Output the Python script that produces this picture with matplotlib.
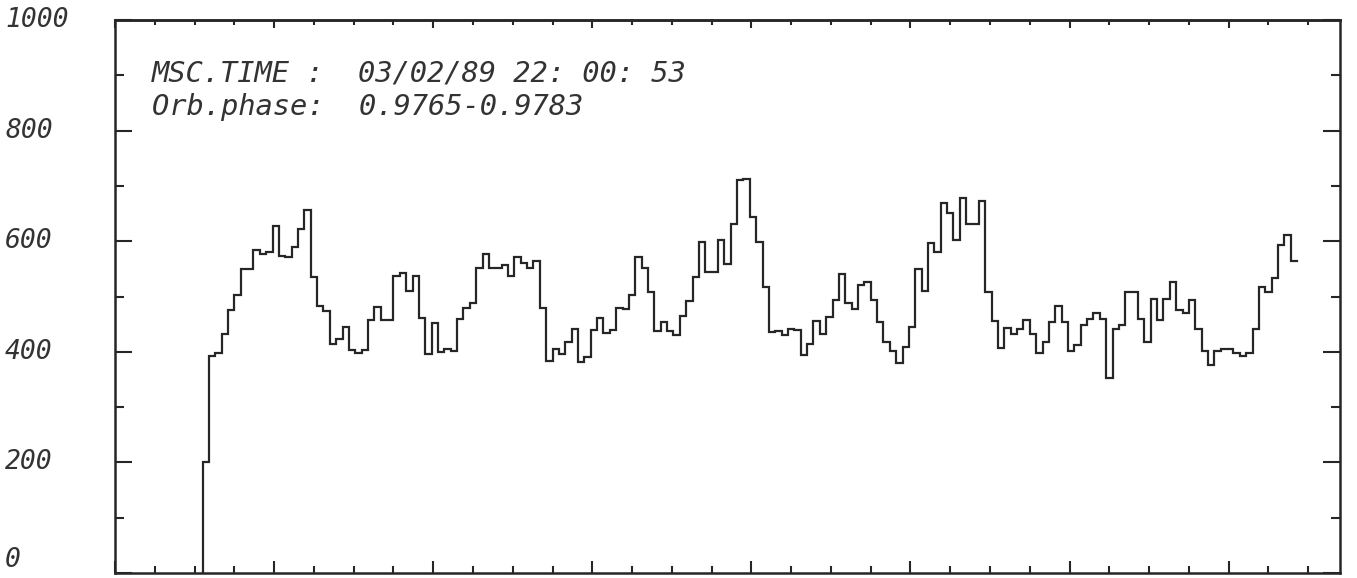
import numpy as np
import matplotlib
matplotlib.use("Agg")
import matplotlib.pyplot as plt
from matplotlib.ticker import MultipleLocator
from matplotlib import transforms

# counts per time bin
counts = [
    201, 393, 397, 433, 476, 502, 550, 550, 584, 577,
    581, 628, 574, 571, 589, 622, 657, 536, 482, 474,
    415, 424, 444, 403, 397, 403, 457, 481, 458, 458,
    537, 543, 510, 537, 462, 396, 452, 400, 405, 402,
    459, 480, 488, 552, 576, 552, 552, 557, 537, 572,
    561, 552, 564, 480, 384, 405, 396, 417, 441, 381,
    390, 440, 461, 434, 440, 479, 478, 503, 572, 552,
    508, 437, 454, 437, 431, 464, 492, 536, 598, 544,
    544, 602, 559, 631, 711, 713, 643, 598, 518, 436,
    438, 431, 442, 439, 394, 415, 456, 432, 463, 494,
    540, 488, 478, 520, 526, 494, 454, 418, 402, 380,
    409, 445, 550, 510, 596, 580, 669, 651, 602, 678,
    631, 631, 672, 508, 455, 407, 443, 433, 441, 457,
    433, 397, 418, 454, 483, 454, 401, 412, 448, 459,
    471, 459, 353, 441, 449, 509, 509, 459, 418, 495,
    457, 496, 526, 475, 471, 493, 441, 402, 376, 402,
    405, 405, 397, 393, 397, 441, 517, 509, 533, 594,
    611, 565,
]
t_start = 11.0
bin_width = 0.8
x_range = (0, 154)
y_range = (0, 1000)
y_ticks = [0, 200, 400, 600, 800, 1000]
info_lines = ["MSC.TIME :  03/02/89 22: 00: 53", "Orb.phase:  0.9765-0.9783"]

INK = "#262626"
FONT = dict(family="DejaVu Sans Mono", style="italic", color="#333333")

fig = plt.figure(figsize=(13.57, 5.78), dpi=100)
W, H = 1357, 578
ax = fig.add_axes([115 / W, 1 - 573 / H, (1340 - 115) / W, (573 - 20) / H])

counts = np.asarray(counts, dtype=float)
edges = t_start + bin_width * np.arange(len(counts) + 1)
# step line, rising from zero at the first bin
ax.step(np.r_[edges[0], edges], np.r_[0, counts, counts[-1]], where="post",
        color=INK, lw=1.6, solid_joinstyle="miter")

ax.set_xlim(*x_range)
ax.set_ylim(*y_range)

for s in ax.spines.values():
    s.set_linewidth(1.8)
    s.set_color(INK)

ax.xaxis.set_major_locator(MultipleLocator(20))
ax.xaxis.set_minor_locator(MultipleLocator(5))
ax.yaxis.set_major_locator(MultipleLocator(200))
ax.yaxis.set_minor_locator(MultipleLocator(100))
ax.tick_params(which="both", direction="in", color=INK, width=1.5,
               labelbottom=False, labelleft=False, top=False, right=True)
ax.tick_params(axis="y", which="major", length=12)
ax.tick_params(axis="y", which="minor", length=6.5)
ax.tick_params(axis="x", which="major", length=8.5)
ax.tick_params(axis="x", which="minor", length=5)

# top axis ticks are shorter than the bottom ones
top = ax.secondary_xaxis("top")
top.xaxis.set_major_locator(MultipleLocator(20))
top.xaxis.set_minor_locator(MultipleLocator(5))
top.tick_params(which="both", direction="in", color=INK, width=1.5, labeltop=False)
top.tick_params(which="major", length=5.5)
top.tick_params(which="minor", length=3.5)
top.spines["top"].set_linewidth(1.8)
top.spines["top"].set_color(INK)

# y labels sit left-aligned at the page edge
lab_tr = transforms.blended_transform_factory(fig.transFigure, ax.transData)
for v in y_ticks:
    # the bottom label would fall off the page, so hang it on the axis line
    va = "bottom" if v == y_range[0] else "center"
    ax.text(5 / W, v, str(v), transform=lab_tr, ha="left", va=va,
            fontsize=19, clip_on=False, **FONT)

ax.text(0.030, 0.903, info_lines[0], transform=ax.transAxes, ha="left",
        va="center", fontsize=20.7, **FONT)
ax.text(0.030, 0.843, info_lines[1], transform=ax.transAxes, ha="left",
        va="center", fontsize=20.7, **FONT)

fig.savefig("out.png", dpi=100, facecolor="white")
